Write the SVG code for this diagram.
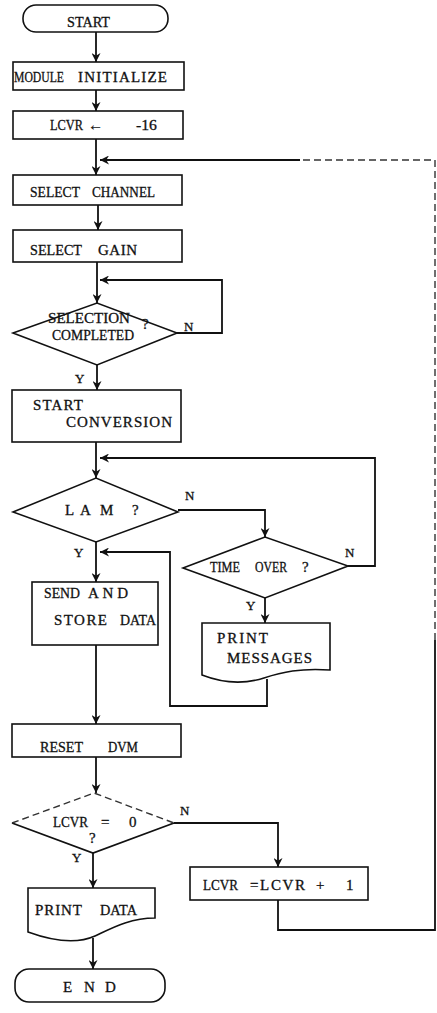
<svg xmlns="http://www.w3.org/2000/svg" width="437" height="1013" viewBox="0 0 437 1013">
<style>
.shape{fill:#fff;stroke:#111;stroke-width:1.6}
.con{fill:none;stroke:#111;stroke-width:1.8}
.dash{fill:none;stroke:#333;stroke-width:1.4;stroke-dasharray:7 4}
text{font-family:"Liberation Serif","DejaVu Serif",serif;font-size:15px;fill:#111;stroke:#111;stroke-width:0.3}
.yn{font-size:13px}
</style>
<defs>
<marker id="ah" viewBox="0 0 10 10" refX="10" refY="5" markerWidth="9" markerHeight="9" markerUnits="userSpaceOnUse" orient="auto">
<path d="M0,0 L10,5 L0,10 L3,5 Z" fill="#111"/>
</marker>
</defs>
<rect width="437" height="1013" fill="#fff"/>
<g id="connectors">
<path class="con" d="M96,32 V62" marker-end="url(#ah)"/>
<path class="con" d="M96,90 V111" marker-end="url(#ah)"/>
<path class="con" d="M96,139 V175" marker-end="url(#ah)"/>
<path class="con" d="M278,900 V930 H435 V640"/>
<path class="dash" d="M435,640 V160 H300"/>
<path class="con" d="M300,160 H100" marker-end="url(#ah)"/>
<path class="con" d="M98,205 V230" marker-end="url(#ah)"/>
<path class="con" d="M97,262 V303" marker-end="url(#ah)"/>
<path class="con" d="M177,333 H222 V280 H100" marker-end="url(#ah)"/>
<path class="con" d="M97,365 V390" marker-end="url(#ah)"/>
<path class="con" d="M96,442 V478" marker-end="url(#ah)"/>
<path class="con" d="M178,510 H265 V537" marker-end="url(#ah)"/>
<path class="con" d="M348,566 H375 V458 H100" marker-end="url(#ah)"/>
<path class="con" d="M265,598 V623" marker-end="url(#ah)"/>
<path class="con" d="M267,679 V706 H170 V552 H100" marker-end="url(#ah)"/>
<path class="con" d="M96,542 V582" marker-end="url(#ah)"/>
<path class="con" d="M96,645 V724" marker-end="url(#ah)"/>
<path class="con" d="M96,757 V793" marker-end="url(#ah)"/>
<path class="con" d="M174,823 H278 V867" marker-end="url(#ah)"/>
<path class="con" d="M93,853 V888" marker-end="url(#ah)"/>
<path class="con" d="M93,938 V969" marker-end="url(#ah)"/>
<text class="yn" x="184" y="331">N</text>
<text class="yn" x="75" y="383">Y</text>
<text class="yn" x="185" y="500">N</text>
<text class="yn" x="74" y="557">Y</text>
<text class="yn" x="345" y="557">N</text>
<text class="yn" x="246" y="610">Y</text>
<text class="yn" x="180" y="815">N</text>
<text class="yn" x="72" y="862">Y</text>
</g>
<g id="start">
<rect class="shape" x="23" y="5" width="145" height="27" rx="13"/>
<text x="67" y="27" textLength="43" lengthAdjust="spacingAndGlyphs">START</text>
</g>
<g id="module-init">
<rect class="shape" x="13" y="62" width="171" height="28"/>
<text y="82"><tspan x="14" textLength="50" lengthAdjust="spacingAndGlyphs">MODULE</tspan><tspan x="78" textLength="89" lengthAdjust="spacing">INITIALIZE</tspan></text>
</g>
<g id="lcvr-init">
<rect class="shape" x="13" y="111" width="170" height="28"/>
<text y="130"><tspan x="50" textLength="33" lengthAdjust="spacingAndGlyphs">LCVR</tspan><tspan x="88">←</tspan><tspan x="136" textLength="21" lengthAdjust="spacingAndGlyphs">-16</tspan></text>
</g>
<g id="select-channel">
<rect class="shape" x="13" y="175" width="169" height="30"/>
<text y="197"><tspan x="30" textLength="50" lengthAdjust="spacingAndGlyphs">SELECT</tspan><tspan x="92" textLength="63" lengthAdjust="spacingAndGlyphs">CHANNEL</tspan></text>
</g>
<g id="select-gain">
<rect class="shape" x="13" y="230" width="169" height="32"/>
<text y="255"><tspan x="30" textLength="52" lengthAdjust="spacingAndGlyphs">SELECT</tspan><tspan x="98" textLength="39" lengthAdjust="spacing">GAIN</tspan></text>
</g>
<g id="selection-completed">
<polygon class="shape" points="13,333 97,303 177,333 97,365"/>
<text x="48" y="323" textLength="82" lengthAdjust="spacingAndGlyphs">SELECTION</text>
<text x="142" y="329" font-size="11">?</text>
<text x="52" y="340" textLength="82" lengthAdjust="spacingAndGlyphs">COMPLETED</text>
</g>
<g id="start-conversion">
<rect class="shape" x="12" y="390" width="169" height="52"/>
<text x="33" y="410" textLength="50" lengthAdjust="spacing">START</text>
<text x="66" y="427" textLength="106" lengthAdjust="spacing">CONVERSION</text>
</g>
<g id="lam">
<polygon class="shape" points="13,512 96,478 178,512 96,542"/>
<text y="515"><tspan x="65">L</tspan><tspan x="80">A</tspan><tspan x="100">M</tspan><tspan x="132">?</tspan></text>
</g>
<g id="time-over">
<polygon class="shape" points="183,568 265,537 348,566 265,598"/>
<text y="572"><tspan x="210" textLength="30" lengthAdjust="spacingAndGlyphs">TIME</tspan><tspan x="255" textLength="32" lengthAdjust="spacingAndGlyphs">OVER</tspan><tspan x="302">?</tspan></text>
</g>
<g id="send-store">
<rect class="shape" x="32" y="582" width="126" height="63"/>
<text y="598"><tspan x="44" textLength="36" lengthAdjust="spacingAndGlyphs">SEND</tspan><tspan x="88" textLength="40" lengthAdjust="spacing">AND</tspan></text>
<text y="625"><tspan x="54" textLength="53" lengthAdjust="spacing">STORE</tspan><tspan x="120" textLength="36" lengthAdjust="spacingAndGlyphs">DATA</tspan></text>
</g>
<g id="print-messages">
<path class="shape" d="M202,623 H330 V670 C300,668 282,672 264,678 C242,685 220,682 202,675 Z"/>
<text x="217" y="643" textLength="51" lengthAdjust="spacing">PRINT</text>
<text x="227" y="663" textLength="85" lengthAdjust="spacing">MESSAGES</text>
</g>
<g id="reset-dvm">
<rect class="shape" x="12" y="724" width="169" height="33"/>
<text y="752"><tspan x="40" textLength="43" lengthAdjust="spacingAndGlyphs">RESET</tspan><tspan x="108" textLength="30" lengthAdjust="spacingAndGlyphs">DVM</tspan></text>
</g>
<g id="lcvr-zero">
<polygon points="12,823 94,793 174,823 93,853" fill="#fff" stroke="none"/>
<path class="con" d="M12,823 L93,853 L174,823" stroke-width="1.6"/>
<path class="dash" d="M12,823 L94,793 L174,823"/>
<text y="827"><tspan x="53" textLength="35" lengthAdjust="spacingAndGlyphs">LCVR</tspan><tspan x="101">=</tspan><tspan x="129">0</tspan></text>
<text x="89" y="843">?</text>
</g>
<g id="lcvr-inc">
<rect class="shape" x="190" y="867" width="178" height="33"/>
<text y="890"><tspan x="203" textLength="35" lengthAdjust="spacingAndGlyphs">LCVR</tspan><tspan x="250" textLength="55" lengthAdjust="spacing">=LCVR</tspan><tspan x="316">+</tspan><tspan x="346">1</tspan></text>
</g>
<g id="print-data">
<path class="shape" d="M28,888 H155 V918 C130,918 112,928 95,936 C75,945 50,940 28,932 Z"/>
<text y="915"><tspan x="35" textLength="47" lengthAdjust="spacing">PRINT</tspan><tspan x="100" textLength="37" lengthAdjust="spacingAndGlyphs">DATA</tspan></text>
</g>
<g id="end">
<rect class="shape" x="15" y="969" width="150" height="33" rx="14"/>
<text y="992"><tspan x="63">E</tspan><tspan x="84">N</tspan><tspan x="105">D</tspan></text>
</g>
</svg>
